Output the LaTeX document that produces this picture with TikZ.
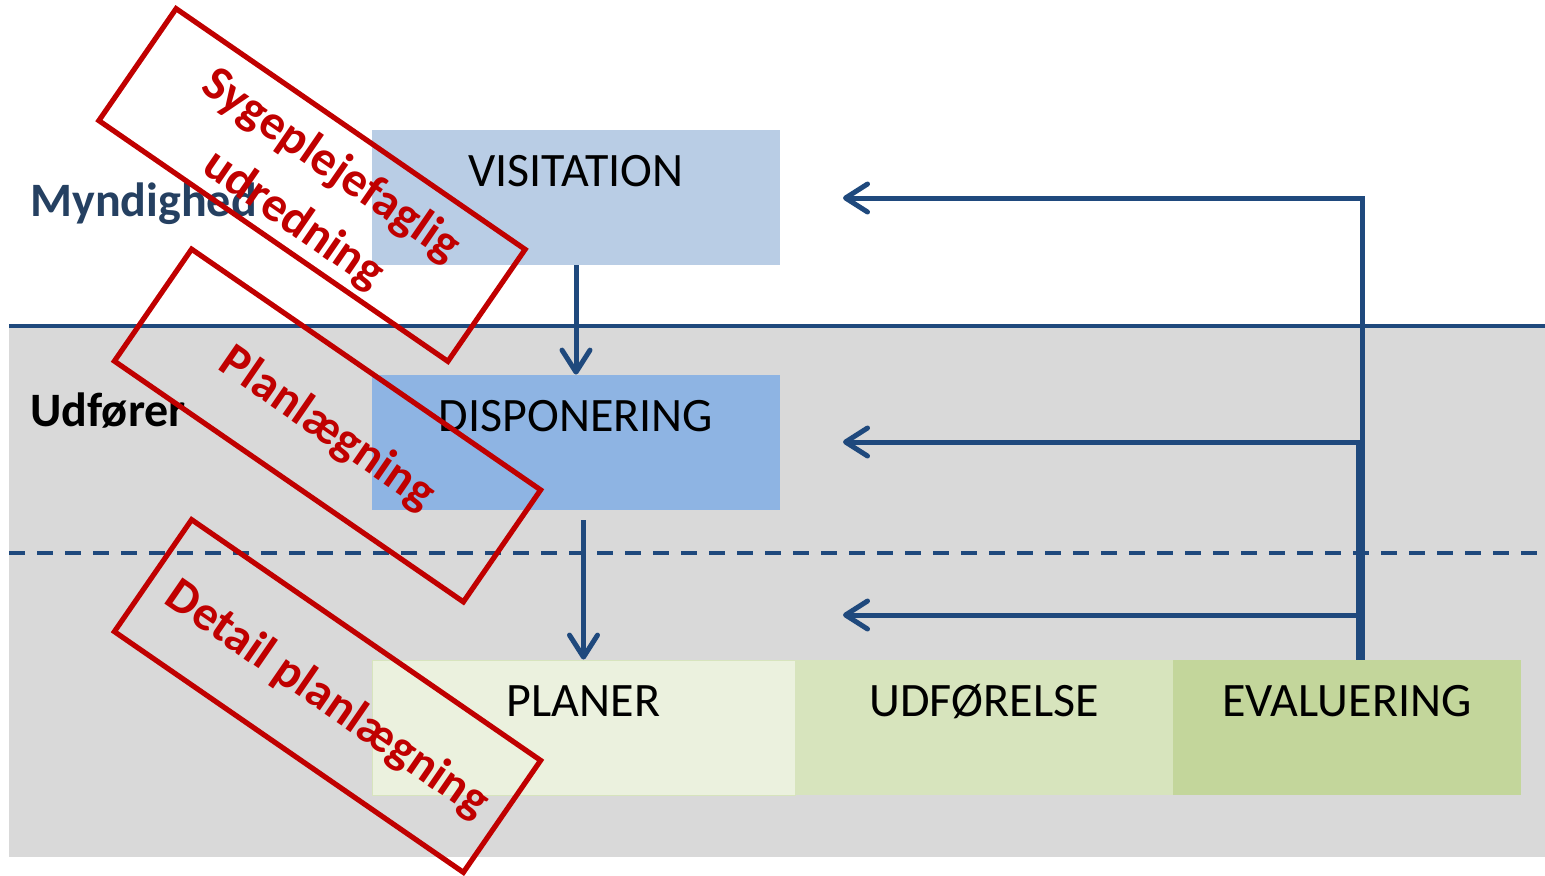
\documentclass[tikz,border=0pt]{standalone}
\usepackage{fontspec}
\setmainfont{Carlito}
\usetikzlibrary{arrows.meta}
\definecolor{lineblue}{HTML}{1F497D}
\definecolor{visitblue}{HTML}{B9CDE5}
\definecolor{dispblue}{HTML}{8EB4E3}
\definecolor{planlight}{HTML}{EBF1DE}
\definecolor{udfgreen}{HTML}{D7E4BD}
\definecolor{evalgreen}{HTML}{C3D69B}
\definecolor{redbox}{HTML}{C00000}
\definecolor{greyband}{HTML}{D9D9D9}
\definecolor{myndblue}{HTML}{254061}

\begin{document}
\begin{tikzpicture}[x=0.5pt, y=-0.5pt,
  stage/.style={minimum width=204pt, minimum height=67.5pt, inner sep=0pt},
  stagetext/.style={anchor=base, inner sep=0pt, font=\fontsize{24}{28}\selectfont},
  side/.style={anchor=base west, inner sep=0pt, font=\fontsize{24}{29}\selectfont\bfseries},
  flow/.style={lineblue, line width=2.5pt, -{Straight Barb[length=11pt, width=14pt, round]}},
  redframe/.style={draw=redbox, line width=2.6pt, rotate=-34.6, minimum width=212pt, minimum height=68pt},
  redtext/.style={text=redbox, rotate=-34.6, align=center, font=\fontsize{24.5}{33}\selectfont\bfseries}]
  \useasboundingbox (0,0) rectangle (1545,875);

  % baggrund og skillelinjer
  \fill[greyband] (9,326) rectangle (1545,857);
  \draw[lineblue, line width=1.8pt] (9,326) -- (1545,326);
  \draw[lineblue, line width=1.8pt, dash pattern=on 8pt off 6pt] (9,553) -- (1545,553);

  % kasser
  \node (visit) at (576,197.5) [stage, fill=visitblue] {};
  \node (disp) at (576,442.5) [stage, fill=dispblue] {};
  \node (plan) at (583.5,727.5) [stage, fill=planlight, draw=udfgreen, minimum width=211.5pt] {};
  \node (udf) at (984,727.5) [stage, fill=udfgreen, minimum width=189pt] {};
  \node (eval) at (1347,727.5) [stage, fill=evalgreen, minimum width=174pt] {};

  \node (visitT) at ([yshift=-28.5pt]visit.north) [stagetext] {VISITATION};
  \node (dispT) at ([yshift=-28.5pt]disp.north) [stagetext] {DISPONERING};
  \node (planT) at ([yshift=-28.5pt]plan.north) [stagetext] {PLANER};
  \node (udfT) at ([yshift=-28.5pt]udf.north) [stagetext] {UDFØRELSE};
  \node (evalT) at ([yshift=-28.5pt]eval.north) [stagetext] {EVALUERING};

  \node (mynd) at (30,216) [side, text=myndblue] {Myndighed};
  \node (udfr) at (30,426) [side] {Udfører};

  % pile
  \draw[flow] (visit) to (disp);
  \draw[flow] ([yshift=-5pt]disp.south -| plan.north) to (plan.north);

  \coordinate (backV) at (843,198);
  \coordinate (backD) at (843,442);
  \coordinate (backP) at (843,615);
  \draw[flow] ([xshift=7.5pt]eval.north) |- (backV);
  \draw[flow] ([xshift=5.5pt]eval.north) |- (backD);
  \draw[flow] ([xshift=5.5pt]eval.north) |- (backP);

  % roede rammer
  \node (sBox) at (312,185) [redframe] {};
  \node (pBox) at (327.5,425.5) [redframe] {};
  \node (dBox) at (327.5,696) [redframe] {};
  \node (sText) at (312,193) [redtext] {Sygeplejefaglig\\udredning};
  \node (pText) at (327,429) [redtext] {Planlægning};
  \node (dText) at (327,700) [redtext] {Detail planlægning};
\end{tikzpicture}
\end{document}
